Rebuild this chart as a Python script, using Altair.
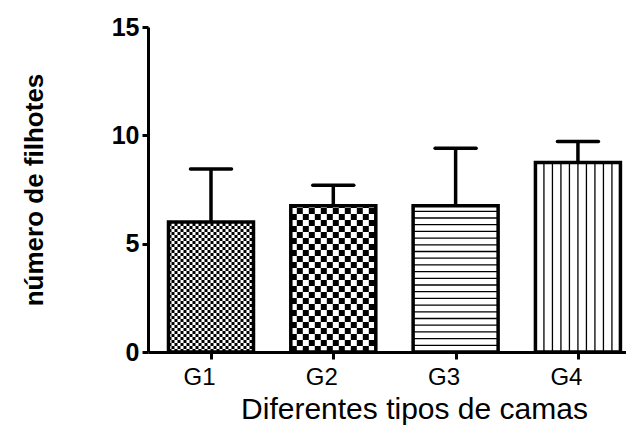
import json
import math
import altair as alt
import pandas as pd

# ---- data ----
groups = ["G1", "G2", "G3", "G4"]
means = [6.0, 6.75, 6.75, 8.75]
errors = [2.45, 0.95, 2.65, 0.97]
pattern_kind = ["fine_check", "check", "hlines", "vlines"]
y_ticks = [0, 5, 10, 15]
x_title = "Diferentes tipos de camas"
y_title = "número de filhotes"

# ---- layout ----
W, H = 478, 325
XDOM = [0.485, 4.393]
YDOM = [0, 15]
px_x = (XDOM[1] - XDOM[0]) / W
px_y = (YDOM[1] - YDOM[0]) / H
HALF = 42.5 * px_x
CAP = 20.5 * px_x
FONT = "Liberation Sans"

pos = list(range(1, len(groups) + 1))

bars = pd.DataFrame({
    "x": [p - HALF for p in pos],
    "x2": [p + HALF for p in pos],
    "y": [0.0] * len(pos),
    "y2": means,
})
err_v = pd.DataFrame({
    "x": pos, "x2": pos, "y": means,
    "y2": [m + e for m, e in zip(means, errors)],
})
err_c = pd.DataFrame({
    "x": [p - CAP for p in pos], "x2": [p + CAP for p in pos],
    "y": [m + e for m, e in zip(means, errors)],
    "y2": [m + e for m, e in zip(means, errors)],
})

cells = []
lines = []
for p, top, kind in zip(pos, means, pattern_kind):
    left, right = p - HALF, p + HALF
    if kind in ("fine_check", "check"):
        size = 3.0 if kind == "fine_check" else 6.0
        cx, cy = size * px_x, size * px_y
        ncol = math.ceil((right - left) / cx)
        nrow = math.ceil(top / cy)
        for r in range(nrow):
            for c in range(ncol):
                if (r + c) % 2 == 0:
                    cells.append({
                        "x": left + c * cx, "x2": min(left + (c + 1) * cx, right),
                        "y": r * cy, "y2": min((r + 1) * cy, top),
                    })
    elif kind == "hlines":
        step = 6.7 * px_y
        k = 1
        while k * step < top:
            yv = k * step
            lines.append({"x": left, "x2": right, "y": yv, "y2": yv})
            k += 1
    else:
        step = 8.5 * px_x
        k = 1
        while left + k * step < right - 2 * px_x:
            xv = left + k * step
            lines.append({"x": xv, "x2": xv, "y": 0.0, "y2": top})
            k += 1
cells = pd.DataFrame(cells)
lines = pd.DataFrame(lines)

label_expr = json.dumps(groups) + "[datum.value - 1]"

x_axis = alt.Axis(
    values=pos, labelExpr=label_expr, title=x_title, grid=False,
    domainColor="black", domainWidth=3, tickColor="black", tickWidth=3, tickSize=7,
    labelFont=FONT, labelFontSize=24, labelColor="black", labelPadding=6, labelOffset=-12,
    titleFont=FONT, titleFontSize=30, titleFontWeight="normal", titleColor="black",
    titleX=266, titleY=66, titleBaseline="alphabetic", titleAlign="center",
)
y_axis = alt.Axis(
    values=y_ticks, title=y_title, grid=False,
    domainColor="black", domainWidth=3, tickColor="black", tickWidth=3, tickSize=6,
    labelFont=FONT, labelFontSize=25, labelFontWeight="bold", labelColor="black", labelPadding=3,
    titleFont=FONT, titleFontSize=26, titleFontWeight="bold", titleColor="black",
    titleX=-106, titleY=H / 2, titleAngle=270, titleBaseline="alphabetic", titleAlign="center",
)
xs = alt.Scale(domain=XDOM, nice=False, zero=False)
ys = alt.Scale(domain=YDOM, nice=False)


def enc():
    return dict(
        x=alt.X("x:Q", scale=xs, axis=x_axis),
        x2="x2:Q",
        y=alt.Y("y:Q", scale=ys, axis=y_axis),
        y2="y2:Q",
    )


cell_layer = alt.Chart(cells).mark_rect(color="black", strokeWidth=0).encode(**enc())
line_layer = alt.Chart(lines).mark_rule(color="black", strokeWidth=1.3).encode(**enc())
bar_layer = alt.Chart(bars).mark_rect(
    fill="white", fillOpacity=0, stroke="black", strokeWidth=3.5
).encode(**enc())
errv_layer = alt.Chart(err_v).mark_rule(color="black", strokeWidth=3.5).encode(**enc())
errc_layer = alt.Chart(err_c).mark_rule(
    color="black", strokeWidth=3.5, strokeCap="round"
).encode(**enc())

chart = alt.layer(cell_layer, line_layer, bar_layer, errv_layer, errc_layer).properties(
    width=W, height=H,
    autosize=alt.AutoSizeParams(type="none"),
    padding={"left": 140, "top": 19, "right": 0, "bottom": 75},
).configure_view(stroke=None)

chart.save("out.html", embed_options={"renderer": "svg", "actions": False})
